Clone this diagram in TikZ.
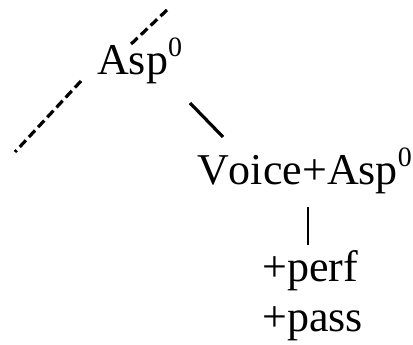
\documentclass[tikz,border=0pt]{standalone}
\usepackage{fontspec}
\setmainfont{Liberation Serif}[Kerning=Off]
\newcommand\supzero{\raisebox{18pt}{\fontsize{28}{28}\selectfont 0}}
\begin{document}
\begin{tikzpicture}[x=1pt,y=-1pt,
  lbl/.style={inner sep=0pt,anchor=base west,font=\fontsize{44}{50}\selectfont},
  branch/.style={line width=3.2pt},
  vbranch/.style={line width=2pt},
  dbranch/.style={line width=3.2pt,dash pattern=on 9pt off 4.5pt}]
  \useasboundingbox (0,0) rectangle (413,345);

  % labels of the tree
  \node[lbl] (asp)   at (97,75)   {Asp\supzero};
  \node[lbl] (voice) at (197,185) {Voice+Asp\supzero};
  \node[lbl] (perf)  at (262,281) {+perf};
  \node[lbl] (pass)  at (262,331) {+pass};

  % branch end points
  \coordinate (up-top) at (167,10);
  \coordinate (up-bot) at (128,47);
  \coordinate (lo-top) at (81,81);
  \coordinate (lo-bot) at (15,152);
  \coordinate (asp-out)  at (190,103);
  \coordinate (voice-in) at (223,137);
  \coordinate (voice-out) at (308,207);
  \coordinate (perf-in)   at (308,245);

  % branches
  \draw[dbranch] (up-top) -- (up-bot);
  \draw[dbranch] (lo-top) -- (lo-bot);
  \draw[branch] (asp-out) -- (voice-in);
  \draw[vbranch] (voice-out) -- (perf-in);
\end{tikzpicture}
\end{document}
